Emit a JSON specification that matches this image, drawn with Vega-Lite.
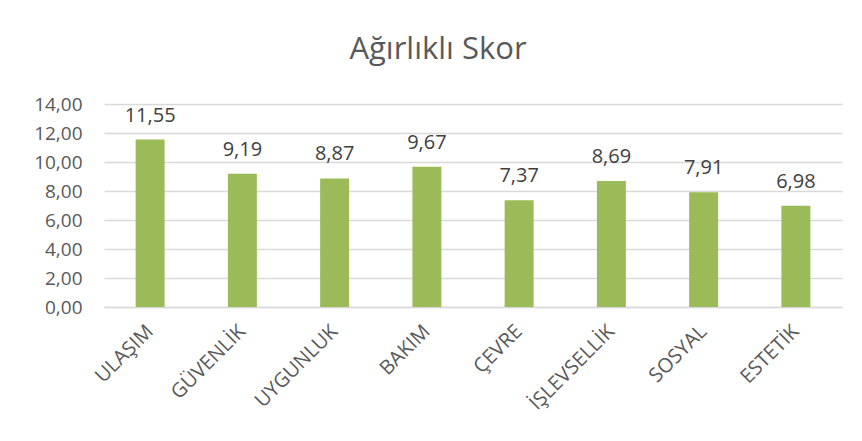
{
  "$schema": "https://vega.github.io/schema/vega-lite/v6.json",
  "autosize": {"type": "none"},
  "width": 738,
  "height": 203,
  "padding": {"left": 104, "top": 104, "right": 20, "bottom": 134},
  "background": "white",
  "title": {
    "text": "Ağırlıklı Skor",
    "anchor": "middle",
    "frame": "group",
    "dx": -35,
    "fontSize": 31,
    "font": "Open Sans",
    "fontWeight": "normal",
    "color": "#595959",
    "offset": 29
  },
  "config": {
    "locale": {"number": {"decimal": ",", "thousands": ".", "grouping": [3], "currency": ["", " ₺"]}},
    "view": {"stroke": null},
    "font": "Open Sans"
  },
  "data": {
    "values": [
      {"kategori": "ULAŞIM", "skor": 11.55},
      {"kategori": "GÜVENLİK", "skor": 9.19},
      {"kategori": "UYGUNLUK", "skor": 8.87},
      {"kategori": "BAKIM", "skor": 9.67},
      {"kategori": "ÇEVRE", "skor": 7.37},
      {"kategori": "İŞLEVSELLİK", "skor": 8.69},
      {"kategori": "SOSYAL", "skor": 7.91},
      {"kategori": "ESTETİK", "skor": 6.98}
    ]
  },
  "encoding": {
    "x": {
      "field": "kategori",
      "type": "nominal",
      "sort": null,
      "scale": {"paddingInner": 0.686, "paddingOuter": 0.343},
      "axis": {
        "title": null,
        "labelAngle": -45,
        "labelAlign": "right",
        "labelBaseline": "middle",
        "labelFontSize": 20,
        "labelColor": "#595959",
        "labelPadding": 21,
        "ticks": false,
        "domainColor": "#D9D9D9",
        "domainWidth": 1.5
      }
    },
    "y": {
      "field": "skor",
      "type": "quantitative",
      "scale": {"domain": [0, 14]},
      "axis": {
        "title": null,
        "values": [0, 2, 4, 6, 8, 10, 12, 14],
        "format": ".2f",
        "labelFontSize": 19,
        "labelColor": "#595959",
        "labelPadding": 22,
        "ticks": false,
        "domain": false,
        "gridColor": "#D9D9D9",
        "gridWidth": 1.5
      }
    }
  },
  "layer": [
    {"mark": {"type": "bar", "color": "#9BBB59"}},
    {
      "mark": {"type": "text", "baseline": "alphabetic", "dy": -18, "fontSize": 20, "color": "#404040"},
      "encoding": {"text": {"field": "skor", "type": "quantitative", "format": ".2f"}}
    }
  ]
}
